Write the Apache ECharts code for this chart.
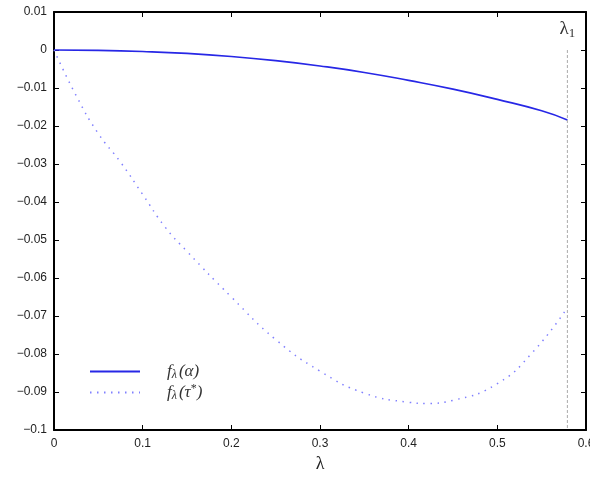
<!DOCTYPE html>
<html><head><meta charset="utf-8">
<script src="https://cdn.jsdelivr.net/npm/echarts@6/dist/echarts.min.js"></script>
<style>html,body{margin:0;padding:0;background:#fff}#c{width:590px;height:477px}</style>
</head><body><div id="c"></div>
<script>
// Data
const lambdaAlpha = [0, 0.05, 0.1, 0.15, 0.2, 0.25, 0.3, 0.35, 0.4, 0.45, 0.5, 0.55, 0.579];
const fAlpha      = [0, -0.0001, -0.0004, -0.0009, -0.0017, -0.0028, -0.0042, -0.0059, -0.0080, -0.0103, -0.0130, -0.0160, -0.0184];
const lambdaTau = [0, 0.025, 0.05, 0.075, 0.1, 0.125, 0.15, 0.2, 0.25, 0.3, 0.35, 0.4, 0.42, 0.45, 0.5, 0.54, 0.579];
const fTau      = [0, -0.012, -0.022, -0.0295, -0.038, -0.0465, -0.053, -0.065, -0.0762, -0.0845, -0.0903, -0.0927, -0.0930, -0.0922, -0.0878, -0.0795, -0.0678];
const lambda1 = 0.579;
const lambda1Span = [0, -0.1];
const xTicks = {min: 0, max: 0.6, interval: 0.1};
const yTicks = {min: -0.1, max: 0.01, interval: 0.01};

const zip = (a, b) => a.map((v, i) => [v, b[i]]);
const fmt = v => { const s = String(parseFloat(v.toFixed(2))); return s.replace('-', '\u2212'); };
const labelFont = {fontFamily: 'Liberation Sans', fontSize: 12, color: '#222'};

const chart = echarts.init(document.getElementById('c'));
const axisCommon = {
  axisLine: {show: true, onZero: false, lineStyle: {color: '#000', width: 2}},
  axisTick: {show: true, inside: true, length: 5, lineStyle: {color: '#000', width: 1}},
  splitLine: {show: false}
};
chart.setOption({
  animation: false,
  backgroundColor: '#fff',
  grid: {left: 54, right: 4, top: 12, bottom: 47, containLabel: false, outerBoundsMode: 'none'},
  xAxis: [
    Object.assign({type: 'value', min: xTicks.min, max: xTicks.max, interval: xTicks.interval, position: 'bottom',
      name: 'λ', nameLocation: 'middle', nameGap: 24,
      nameTextStyle: {fontFamily: 'Liberation Serif', fontSize: 18, color: '#222'},
      axisLabel: Object.assign({margin: 8, formatter: fmt}, labelFont)}, axisCommon),
    Object.assign({type: 'value', min: xTicks.min, max: xTicks.max, interval: xTicks.interval, position: 'top',
      axisLabel: {show: false}}, axisCommon)
  ],
  yAxis: [
    Object.assign({type: 'value', min: yTicks.min, max: yTicks.max, interval: yTicks.interval, position: 'left',
      axisLabel: Object.assign({margin: 7, formatter: fmt}, labelFont)}, axisCommon),
    Object.assign({type: 'value', min: yTicks.min, max: yTicks.max, interval: yTicks.interval, position: 'right',
      axisLabel: {show: false}}, axisCommon)
  ],
  legend: {
    left: 84, top: 358, orient: 'vertical', itemGap: 2, itemWidth: 50, itemHeight: 12,
    data: ['fa', 'ft'],
    itemStyle: {opacity: 0},
    formatter: n => n === 'fa' ? '{f|f}{s|λ}{p|(α)}' : '{f|f}{s|λ}{p|(τ}{u|*}{p|)}',
    textStyle: {
      padding: [0, 0, 0, 22],
      rich: {
        f: {fontFamily: 'Liberation Serif', fontStyle: 'italic', fontSize: 17, color: '#333'},
        s: {fontFamily: 'Liberation Serif', fontStyle: 'italic', fontSize: 12, color: '#333', padding: [6, 2, 0, 0]},
        p: {fontFamily: 'Liberation Serif', fontStyle: 'italic', fontSize: 17, color: '#333'},
        u: {fontFamily: 'Liberation Serif', fontSize: 12, color: '#333', padding: [0, 0, 8, 0]}
      }
    }
  },
  series: [
    {name: 'fa', type: 'line', data: zip(lambdaAlpha, fAlpha), smooth: true, showSymbol: false, symbol: 'none',
     lineStyle: {color: '#2727e6', width: 1.6}, itemStyle: {color: '#2727e6'}},
    {name: 'ft', type: 'line', data: zip(lambdaTau, fTau), smooth: true, showSymbol: false, symbol: 'none',
     lineStyle: {color: '#8080ff', width: 1.5, type: [1.5, 5.5]}, itemStyle: {color: '#8080ff'}},
    {name: 'l1', type: 'line', data: lambda1Span.map(v => [lambda1, v]), symbol: 'none',
     lineStyle: {color: '#aaa', width: 1, type: [3, 2]},
     markPoint: {symbol: 'circle', symbolSize: 0,
       data: [{coord: [lambda1, lambda1Span[0]], value: 'l1'}],
       label: {show: true, position: 'top', distance: 10,
         formatter: '{a|λ}{b|1}',
         rich: {a: {fontFamily: 'Liberation Serif', fontSize: 19, color: '#333'},
                b: {fontFamily: 'Liberation Serif', fontSize: 13, color: '#333', padding: [8, 0, 0, 0]}}}}}
  ]
});
</script></body></html>
